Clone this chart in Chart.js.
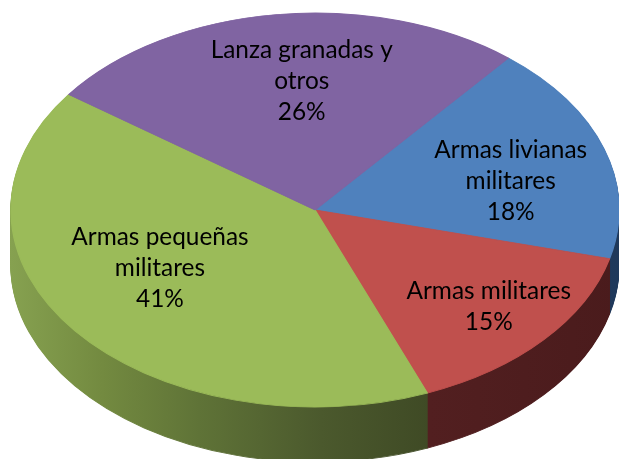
<!DOCTYPE html>
<html><head><meta charset="utf-8">
<script src="https://cdn.jsdelivr.net/npm/chart.js@4.4.0/dist/chart.umd.min.js"></script>
<style>html,body{margin:0;padding:0;background:#fff;overflow:hidden}#wrap{width:619px;height:459px;position:relative}</style>
</head><body><div id="wrap"><canvas id="c" width="619" height="459"></canvas></div>
<script>
// ---- data ----
const categories = ['Armas livianas militares', 'Armas militares', 'Armas pequeñas militares', 'Lanza granadas y otros'];
const labelLines = [['Armas livianas', 'militares'], ['Armas militares'], ['Armas pequeñas', 'militares'], ['Lanza granadas y', 'otros']];
const shares = [18, 15, 41, 26];
const pctLabels = ['18%', '15%', '41%', '26%'];

// ---- styles / layout ----
const topColors = ['#4F81BD', '#C0504D', '#9BBB59', '#8064A2'];
const sideStops = [
  [[0, '#2c4a73'], [1, '#1f395b']],
  [[0, '#6a2a2a'], [0.69, '#521f20'], [1, '#4a1b1c']],
  [[0, '#86a150'], [0.15, '#738a40'], [0.31, '#5f7337'], [0.51, '#4b592d'], [0.69, '#3f4a25'], [1, '#353f1f']],
  [[0, '#4c3b62'], [1, '#3e3050']]
];
const GEOM = { cx: 315, cy: 210, rx: 304, ry: 197, depth: 55, rotation: 39.5 };
const labelPlace = [{ r: 0.662, da: 4.6 }, { r: 0.750, da: -0.95 }, { r: 0.586, da: 8.4 }, { r: 0.659, da: 3.5 }];
const FONT_FAMILY = 'Lato, "Open Sans", sans-serif';
const LINE_H = 31;

function ellipseTransform(ctx, arc, dy) {
  const R = arc.outerRadius;
  ctx.translate(GEOM.cx, GEOM.cy + dy);
  ctx.scale(GEOM.rx / R, GEOM.ry / R);
  ctx.translate(-arc.x, -arc.y);
}

const pie3d = {
  id: 'pie3d',
  beforeDatasetsDraw(chart) {
    const ctx = chart.ctx;
    const arcs = chart.getDatasetMeta(0).data;
    const a0 = arcs[0];
    const R = a0.outerRadius;
    const fills = sideStops.map(stops => {
      const g = ctx.createLinearGradient(a0.x - R, 0, a0.x + R, 0);
      stops.forEach(s => g.addColorStop(s[0], s[1]));
      return g;
    });
    for (let d = GEOM.depth; d >= 1; d--) {
      ctx.save();
      ellipseTransform(ctx, a0, d);
      arcs.forEach((arc, i) => {
        const c = Object.create(arc);
        c.options = Object.assign({}, arc.options, { backgroundColor: fills[i], borderColor: fills[i], borderWidth: 1 });
        c.draw(ctx);
      });
      ctx.restore();
    }
    ctx.save();
    ellipseTransform(ctx, a0, 0);
  },
  afterDatasetsDraw(chart) {
    const ctx = chart.ctx;
    ctx.restore();
    const arcs = chart.getDatasetMeta(0).data;
    ctx.save();
    ctx.font = '100px ' + FONT_FAMILY;
    const w = ctx.measureText('Armas livianas').width;
    const size = Math.round(153 / w * 100 * 10) / 10;
    ctx.font = size + 'px ' + FONT_FAMILY;
    const capH = ctx.measureText('A').actualBoundingBoxAscent;
    ctx.fillStyle = '#000';
    ctx.textAlign = 'center';
    ctx.textBaseline = 'alphabetic';
    arcs.forEach((arc, i) => {
      const mid = (arc.startAngle + arc.endAngle) / 2 + labelPlace[i].da * Math.PI / 180;
      const x = GEOM.cx + GEOM.rx * labelPlace[i].r * Math.cos(mid);
      const y = GEOM.cy + GEOM.ry * labelPlace[i].r * Math.sin(mid);
      const lines = labelLines[i].concat([pctLabels[i]]);
      lines.forEach((t, k) => {
        const ly = y + (k - (lines.length - 1) / 2) * LINE_H + capH / 2;
        ctx.fillText(t, x, ly);
      });
    });
    ctx.restore();
  }
};

new Chart(document.getElementById('c'), {
  type: 'pie',
  data: {
    labels: categories,
    datasets: [{
      data: shares,
      backgroundColor: topColors,
      borderColor: topColors,
      borderWidth: 1,
      clip: false
    }]
  },
  options: {
    responsive: false,
    animation: false,
    rotation: GEOM.rotation,
    layout: { padding: 0 },
    plugins: { legend: { display: false }, tooltip: { enabled: false } },
    events: []
  },
  plugins: [pie3d]
});
</script>
</body></html>
